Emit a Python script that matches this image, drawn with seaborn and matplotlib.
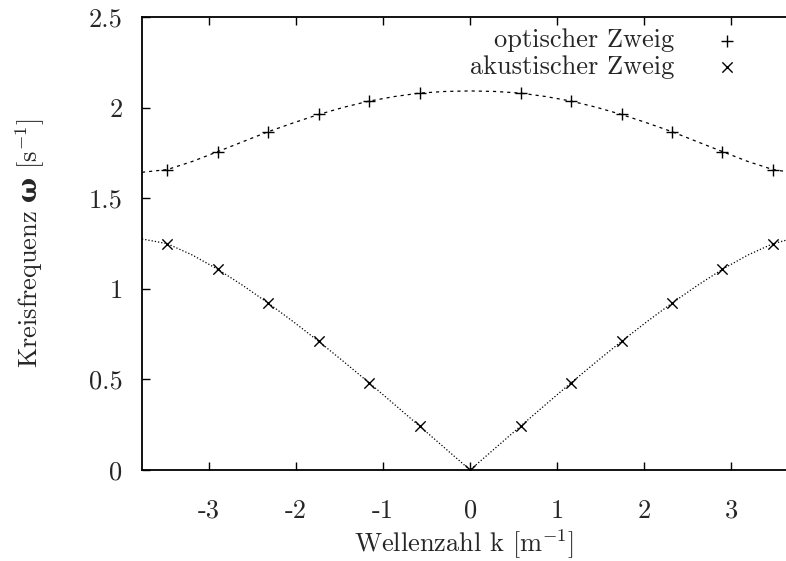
import matplotlib
matplotlib.use("Agg")
import matplotlib.pyplot as plt
import seaborn as sns
import pandas as pd

# curve points (wave number k, angular frequency)
k_curve = [-3.77, -3.48, -3.19, -2.90, -2.61, -2.32, -2.03, -1.74, -1.45, -1.16, -0.87, -0.58, -0.29,
           0.0, 0.29, 0.58, 0.87, 1.16, 1.45, 1.74, 2.03, 2.32, 2.61, 2.90, 3.19, 3.48, 3.63]
opt_curve = [1.643, 1.658, 1.703, 1.757, 1.812, 1.867, 1.916, 1.962, 2.002, 2.036, 2.061, 2.080, 2.089,
             2.092, 2.089, 2.080, 2.061, 2.036, 2.002, 1.962, 1.916, 1.867, 1.812, 1.757, 1.703, 1.658, 1.647]
ac_curve = [1.275, 1.249, 1.186, 1.108, 1.018, 0.921, 0.818, 0.710, 0.597, 0.481, 0.362, 0.242, 0.121,
            0.0, 0.121, 0.242, 0.362, 0.481, 0.597, 0.710, 0.818, 0.921, 1.018, 1.108, 1.186, 1.249, 1.268]

# sample points (markers)
k_opt = [-3.48, -2.90, -2.32, -1.74, -1.16, -0.58, 0.58, 1.16, 1.74, 2.32, 2.90, 3.48]
opt_marks = [1.658, 1.757, 1.867, 1.962, 2.036, 2.080, 2.080, 2.036, 1.962, 1.867, 1.757, 1.658]
k_ac = [-3.48, -2.90, -2.32, -1.74, -1.16, -0.58, 0.0, 0.58, 1.16, 1.74, 2.32, 2.90, 3.48]
ac_marks = [1.249, 1.108, 0.921, 0.710, 0.481, 0.242, 0.0, 0.242, 0.481, 0.710, 0.921, 1.108, 1.249]

x_ticks = [-3, -2, -1, 0, 1, 2, 3]
x_labels = ["-3", "-2", "-1", "0", "1", "2", "3"]
y_ticks = [0, 0.5, 1, 1.5, 2, 2.5]
y_labels = ["0", "0.5", "1", "1.5", "2", "2.5"]

curves = pd.DataFrame({"k": k_curve, "opt": opt_curve, "ac": ac_curve})
opt_pts = pd.DataFrame({"k": k_opt, "w": opt_marks})
ac_pts = pd.DataFrame({"k": k_ac, "w": ac_marks})

sns.set_theme(style="ticks")
plt.rcParams["font.family"] = ["cmr10", "DejaVu Serif"]
plt.rcParams["mathtext.fontset"] = "custom"
plt.rcParams["mathtext.rm"] = "cmr10"
plt.rcParams["mathtext.it"] = "cmmi10"
plt.rcParams["mathtext.bf"] = "DejaVu Serif:bold"
plt.rcParams["axes.unicode_minus"] = False

fig = plt.figure(figsize=(7.86, 5.61), dpi=100)
ax = fig.add_axes([142 / 786, 1 - 470 / 561, 1 - 142 / 786, (470 - 17) / 561])

sns.lineplot(data=curves, x="k", y="opt", ax=ax, color="black", lw=0.9, linestyle=(0, (2.5, 3.2)), sort=False)
sns.lineplot(data=curves, x="k", y="ac", ax=ax, color="black", lw=0.9, linestyle=(0, (1, 1.6)), sort=False)
sns.scatterplot(data=opt_pts, x="k", y="w", ax=ax, marker="+", s=70, color="black", linewidth=1,
                label="optischer Zweig")
sns.scatterplot(data=ac_pts, x="k", y="w", ax=ax, marker="x", s=55, color="black", linewidth=1,
                label="akustischer Zweig")

ax.set_xlim(-3.77, 3.63)
ax.set_ylim(0, 2.5)
ax.set_xticks(x_ticks)
ax.set_xticklabels(x_labels)
ax.set_yticks(y_ticks)
ax.set_yticklabels(y_labels)
ax.tick_params(direction="in", top=True, right=False, length=6, width=1, labelsize=19, color="black")
ax.tick_params(axis="x", pad=21)
ax.tick_params(axis="y", pad=14)
for side in ["top", "left", "bottom"]:
    ax.spines[side].set_linewidth(1.3)
    ax.spines[side].set_color("black")
ax.spines["right"].set_visible(False)

ax.set_xlabel(r"Wellenzahl k [m$^{\mathrm{-1}}$]", fontsize=19, labelpad=3)
ax.set_ylabel(r"Kreisfrequenz $\mathbf{\omega}$ [s$^{\mathrm{-1}}$]", fontsize=19, labelpad=30)

ax.legend(loc="upper right", bbox_to_anchor=(0.974, 1.009), frameon=False, markerfirst=False,
          fontsize=19, handlelength=2, handletextpad=1.01, labelspacing=0.11, borderaxespad=0.2)

fig.savefig("out.png", dpi=100)
